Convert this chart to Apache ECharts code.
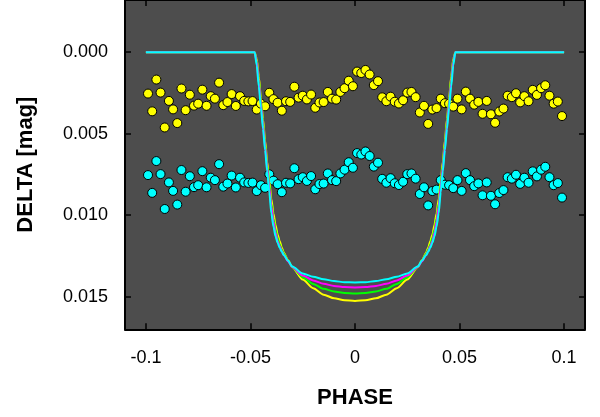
<!DOCTYPE html>
<html>
<head>
<meta charset="utf-8">
<script src="https://cdn.jsdelivr.net/npm/echarts@6/dist/echarts.min.js"></script>
<style>html,body{margin:0;padding:0;background:#fff}#c{width:600px;height:417px}</style>
</head>
<body>
<div id="c"></div>
<script>
// ---- data ----
const xTicks = [-0.1, -0.05, 0, 0.05, 0.1];
const xTickLabels = ['-0.1', '-0.05', '0', '0.05', '0.1'];
const yTicks = [0, 0.005, 0.01, 0.015];
const yTickLabels = ['0.000', '0.005', '0.010', '0.015'];

const pointPhase = [
 -0.099,-0.097,-0.095,-0.093,-0.091,-0.089,-0.087,-0.085,-0.083,-0.081,
 -0.079,-0.077,-0.075,-0.073,-0.071,-0.069,-0.067,-0.065,-0.063,-0.061,
 -0.059,-0.057,-0.055,-0.053,-0.051,-0.049,-0.047,-0.045,-0.043,-0.041,
 -0.039,-0.037,-0.035,-0.033,-0.031,-0.029,-0.027,-0.025,-0.023,-0.021,
 -0.019,-0.017,-0.015,-0.013,-0.011,-0.009,-0.007,-0.005,-0.003,-0.001,
 0.001,0.003,0.005,0.007,0.009,0.011,0.013,0.015,0.017,0.019,
 0.021,0.023,0.025,0.027,0.029,0.031,0.033,0.035,0.037,0.039,
 0.041,0.043,0.045,0.047,0.049,0.051,0.053,0.055,0.057,0.059,
 0.061,0.063,0.065,0.067,0.069,0.071,0.073,0.075,0.077,0.079,
 0.081,0.083,0.085,0.087,0.089,0.091,0.093,0.095,0.097,0.099];

const yellowPoints = [
 0.00254,0.00363,0.00168,0.00248,0.00462,0.00299,0.00351,0.00435,0.00223,0.00356,
 0.00261,0.00328,0.00316,0.00230,0.00329,0.00270,0.00285,0.00187,0.00325,0.00306,
 0.00257,0.00330,0.00270,0.00299,0.00302,0.00300,0.00352,0.00316,0.00332,0.00249,
 0.00288,0.00310,0.00359,0.00301,0.00305,0.00212,0.00279,0.00267,0.00290,0.00260,
 0.00341,0.00309,0.00306,0.00244,0.00285,0.00291,0.00244,0.00221,0.00175,0.00209,
 0.00119,0.00128,0.00109,0.00137,0.00202,0.00178,0.00277,0.00301,0.00273,0.00304,
 0.00315,0.00295,0.00248,0.00244,0.00276,0.00370,0.00329,0.00440,0.00352,0.00343,
 0.00285,0.00313,0.00316,0.00334,0.00285,0.00351,0.00242,0.00285,0.00322,0.00305,
 0.00378,0.00299,0.00381,0.00433,0.00364,0.00346,0.00267,0.00276,0.00252,0.00308,
 0.00270,0.00301,0.00231,0.00262,0.00221,0.00203,0.00267,0.00316,0.00303,0.00392];

const cyanPoints = [
 0.00754,0.00863,0.00668,0.00748,0.00962,0.00799,0.00851,0.00935,0.00723,0.00856,
 0.00761,0.00828,0.00816,0.00730,0.00829,0.00770,0.00785,0.00687,0.00825,0.00806,
 0.00757,0.00830,0.00770,0.00799,0.00802,0.00800,0.00852,0.00816,0.00832,0.00749,
 0.00788,0.00810,0.00859,0.00801,0.00805,0.00712,0.00779,0.00767,0.00790,0.00760,
 0.00841,0.00809,0.00806,0.00744,0.00785,0.00791,0.00744,0.00721,0.00675,0.00709,
 0.00619,0.00628,0.00609,0.00637,0.00702,0.00678,0.00777,0.00801,0.00773,0.00804,
 0.00815,0.00795,0.00748,0.00744,0.00776,0.00870,0.00829,0.00940,0.00852,0.00843,
 0.00785,0.00813,0.00816,0.00834,0.00785,0.00851,0.00742,0.00785,0.00822,0.00805,
 0.00878,0.00799,0.00881,0.00933,0.00864,0.00846,0.00767,0.00776,0.00752,0.00808,
 0.00770,0.00801,0.00731,0.00762,0.00721,0.00703,0.00767,0.00816,0.00803,0.00892];

const modelPhase = [
 -0.100,-0.048,-0.047,-0.046,-0.045,-0.044,-0.043,-0.042,-0.041,-0.040,-0.039,-0.038,
 -0.037,-0.036,-0.035,-0.034,-0.032,-0.030,-0.025,-0.020,-0.015,-0.010,-0.005,0,
 0.005,0.010,0.015,0.020,0.025,0.030,0.032,0.034,0.035,0.036,0.037,0.038,0.039,0.040,
 0.041,0.042,0.043,0.044,0.045,0.046,0.047,0.048,0.100];

const modelYellow = [
 0,0,0.0004,0.0015,0.0028,0.0041,0.0054,0.0067,0.0079,0.0090,0.0099,0.0106,
 0.0112,0.0116,0.0120,0.01232,0.01277,0.0132,0.01395,0.01448,0.01488,0.0151,0.01522,0.01526,
 0.01522,0.0151,0.01488,0.01448,0.01395,0.0132,0.01277,0.01232,0.0120,0.0116,0.0112,0.0106,0.0099,0.0090,
 0.0079,0.0067,0.0054,0.0041,0.0028,0.0015,0.0004,0,0];

const modelGreen = [
 0,0,0.0005,0.0017,0.0030,0.0043,0.0056,0.0069,0.0081,0.0093,0.0102,0.0109,
 0.0114,0.0118,0.0121,0.01238,0.0128,0.0132,0.0138,0.01422,0.01452,0.01468,0.01477,0.0148,
 0.01477,0.01468,0.01452,0.01422,0.0138,0.0132,0.0128,0.01238,0.0121,0.0118,0.0114,0.0109,0.0102,0.0093,
 0.0081,0.0069,0.0056,0.0043,0.0030,0.0017,0.0005,0,0];

const modelMagenta = [
 0,0,0.0006,0.0019,0.0032,0.0045,0.0058,0.0071,0.0083,0.0095,0.0104,0.0111,
 0.0116,0.0119,0.0122,0.01245,0.01283,0.01318,0.0137,0.0140,0.01421,0.01434,0.01441,0.01443,
 0.01441,0.01434,0.01421,0.0140,0.0137,0.01318,0.01283,0.01245,0.0122,0.0119,0.0116,0.0111,0.0104,0.0095,
 0.0083,0.0071,0.0058,0.0045,0.0032,0.0019,0.0006,0,0];

const modelCyan = [
 0,0,0.0008,0.0021,0.0034,0.0047,0.0060,0.0073,0.0086,0.0099,0.0107,0.0113,
 0.0117,0.0120,0.01225,0.01245,0.0128,0.01315,0.01358,0.01378,0.01393,0.01404,0.01411,0.01413,
 0.01411,0.01404,0.01393,0.01378,0.01358,0.01315,0.0128,0.01245,0.01225,0.0120,0.0117,0.0113,0.0107,0.0099,
 0.0086,0.0073,0.0060,0.0047,0.0034,0.0021,0.0008,0,0];

// ---- chart ----
const FONT = 'Liberation Sans, Arial, sans-serif';
const pair = (xs, ys) => xs.map((x, i) => [x, ys[i]]);
const fmt = (ticks, labels) => v => {
  for (let i = 0; i < ticks.length; i++) if (Math.abs(ticks[i] - v) < 1e-9) return labels[i];
  return '';
};

const chart = echarts.init(document.getElementById('c'), null, {renderer: 'canvas'});

const axisLine = {show: true, onZero: false, lineStyle: {color: '#000', width: 2}};

const option = {
  animation: false,
  backgroundColor: '#ffffff',
  grid: {left: 125, top: -2, width: 460, height: 331.3, show: true, backgroundColor: '#4d4d4d', borderWidth: 0, containLabel: false},
  xAxis: [
    {
      type: 'value', min: -0.11, max: 0.11, position: 'bottom',
      axisLine: axisLine,
      axisTick: {show: true, inside: true, length: 6, customValues: xTicks, lineStyle: {color: '#000', width: 1.5}},
      axisLabel: {show: true, customValues: xTicks, formatter: fmt(xTicks, xTickLabels), fontSize: 18, color: '#000', fontFamily: FONT, margin: 20},
      splitLine: {show: false},
      name: 'PHASE', nameLocation: 'middle', nameGap: 58,
      nameTextStyle: {fontSize: 22, fontWeight: 'bold', color: '#000', fontFamily: FONT}
    },
    {
      type: 'value', min: -0.11, max: 0.11, position: 'top',
      axisLine: axisLine,
      axisTick: {show: true, inside: true, length: 6, customValues: xTicks, lineStyle: {color: '#000', width: 1.5}},
      axisLabel: {show: false}, splitLine: {show: false}
    }
  ],
  yAxis: [
    {
      type: 'value', min: -0.0032, max: 0.017, inverse: true, position: 'left',
      axisLine: axisLine,
      axisTick: {show: true, inside: true, length: 6, customValues: yTicks, lineStyle: {color: '#000', width: 1.5}},
      axisLabel: {show: true, customValues: yTicks, formatter: fmt(yTicks, yTickLabels), fontSize: 18, color: '#000', fontFamily: FONT, margin: 17},
      splitLine: {show: false},
      name: 'DELTA [mag]', nameLocation: 'middle', nameGap: 88,
      nameTextStyle: {fontSize: 22, fontWeight: 'bold', color: '#000', fontFamily: FONT}
    },
    {
      type: 'value', min: -0.0032, max: 0.017, inverse: true, position: 'right',
      axisLine: axisLine,
      axisTick: {show: true, inside: true, length: 6, customValues: yTicks, lineStyle: {color: '#000', width: 1.5}},
      axisLabel: {show: false}, splitLine: {show: false}
    }
  ],
  series: [
    {type: 'scatter', name: 'yellow pts', data: pair(pointPhase, yellowPoints), symbolSize: 9,
     itemStyle: {color: '#ffff00', borderColor: '#000', borderWidth: 1, opacity: 1}, z: 2},
    {type: 'scatter', name: 'cyan pts', data: pair(pointPhase, cyanPoints), symbolSize: 9,
     itemStyle: {color: '#00ffff', borderColor: '#000', borderWidth: 1, opacity: 1}, z: 2},
    {type: 'line', data: pair(modelPhase, modelYellow), showSymbol: false, smooth: 0.25, smoothMonotone: 'x', lineStyle: {color: '#ffff00', width: 2}, z: 3},
    {type: 'line', data: pair(modelPhase, modelGreen), showSymbol: false, smooth: 0.25, smoothMonotone: 'x', lineStyle: {color: '#00ff00', width: 2}, z: 3},
    {type: 'line', data: pair(modelPhase, modelMagenta), showSymbol: false, smooth: 0.25, smoothMonotone: 'x', lineStyle: {color: '#ff00ff', width: 2}, z: 3},
    {type: 'line', data: pair(modelPhase, modelCyan), showSymbol: false, smooth: 0.25, smoothMonotone: 'x', lineStyle: {color: '#00ffff', width: 2}, z: 3}
  ]
};
chart.setOption(option);
</script>
</body>
</html>
